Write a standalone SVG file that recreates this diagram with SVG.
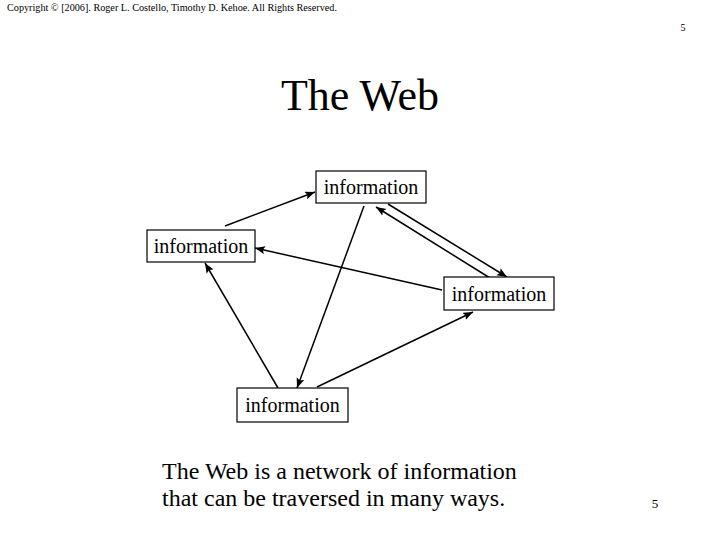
<svg xmlns="http://www.w3.org/2000/svg" width="720" height="540" viewBox="0 0 720 540">
<style>
.t{font-family:"Liberation Serif","Times New Roman",serif;fill:#000}
.node rect{fill:#fff;stroke:#000;stroke-width:1.2}
.node text{font-size:20px;text-anchor:middle}
.edges line{stroke:#000;stroke-width:1.5;marker-end:url(#ah)}
</style>
<defs>
<marker id="ah" markerUnits="userSpaceOnUse" markerWidth="12" markerHeight="10" refX="10" refY="4" orient="auto">
<path d="M0,0 L10,4 L0,8 L2,4 Z" fill="#000"/>
</marker>
</defs>
<rect width="720" height="540" fill="#fff"/>
<text class="t" x="7" y="11" font-size="10" textLength="330" lengthAdjust="spacingAndGlyphs">Copyright © [2006].  Roger L. Costello, Timothy D. Kehoe.  All Rights Reserved.</text>
<text class="t" x="683" y="31" font-size="10" text-anchor="middle">5</text>
<text class="t" x="360" y="110" font-size="44" text-anchor="middle">The Web</text>
<g class="edges" id="connectors">
<line x1="225" y1="226" x2="315" y2="192"/>
<line x1="364" y1="206" x2="297" y2="388"/>
<line x1="388" y1="204" x2="507" y2="277"/>
<line x1="490" y1="278" x2="376" y2="207"/>
<line x1="442" y1="290" x2="255" y2="248"/>
<line x1="278" y1="388" x2="205" y2="263"/>
<line x1="317" y1="387" x2="473" y2="312"/>
</g>
<g class="node t" id="n-top"><rect x="316" y="171" width="110" height="32"/><text x="371" y="194">information</text></g>
<g class="node t" id="n-left"><rect x="147" y="230" width="108" height="32"/><text x="201" y="253">information</text></g>
<g class="node t" id="n-right"><rect x="444" y="277" width="110" height="33"/><text x="499" y="301">information</text></g>
<g class="node t" id="n-bottom"><rect x="237" y="388" width="111" height="34"/><text x="292.5" y="412">information</text></g>
<text class="t" x="162" y="479" font-size="24">The Web is a network of information</text>
<text class="t" x="162" y="506" font-size="24">that can be traversed in many ways.</text>
<text class="t" x="655" y="508" font-size="13" text-anchor="middle">5</text>
</svg>
